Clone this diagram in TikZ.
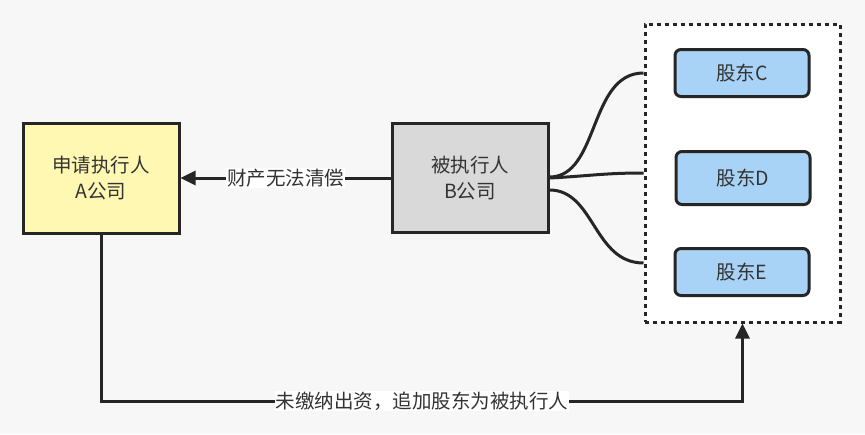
\documentclass[tikz,border=0pt]{standalone}
\usepackage{fontspec}
\setmainfont{Noto Sans CJK SC}
\usetikzlibrary{arrows.meta,calc}
\definecolor{bgc}{HTML}{F7F7F7}
\definecolor{lnc}{HTML}{262626}
\definecolor{txc}{HTML}{333333}
\definecolor{yelc}{HTML}{FFF8B3}
\definecolor{grayc}{HTML}{D9D9D9}
\definecolor{bluec}{HTML}{A9D3F6}
\tikzset{
  box/.style={draw=lnc,line width=3pt,text=txc,align=center,font=\fontsize{19.5}{26}\selectfont,inner sep=0pt},
  holder/.style={box,rounded corners=6pt,fill=bluec,minimum width=134pt,minimum height=47pt},
  conn/.style={draw=lnc,line width=3pt},
  tip/.style={-{Triangle[length=15pt,width=14pt]}},
  lab/.style={fill=white,text=txc,font=\fontsize{19.5}{23}\selectfont,inner sep=1pt}
}
\begin{document}
\begin{tikzpicture}[x=1pt,y=-1pt]
\useasboundingbox[fill=bgc] (0,0) rectangle (865,434);
\node[box,fill=yelc,minimum width=156pt,minimum height=110pt] (A) at (101,178) {申请执行人\\A公司};
\node[box,fill=grayc,minimum width=156pt,minimum height=109pt] (B) at (470,178) {被执行人\\B公司};
\node[draw=lnc,fill=white,line width=3pt,dash pattern=on 4pt off 4pt,minimum width=195pt,minimum height=298pt,inner sep=0pt] (K) at (742.5,173) {};
\node[holder] (C) at (742,73) {股东C};
\node[holder,minimum height=53pt] (D) at (743,178) {股东D};
\node[holder] (E) at (742,272) {股东E};
\draw[conn,tip] (B.west) -- node[lab]{财产无法清偿} (A.east);
\draw[conn] ([yshift=1pt]B.east) .. controls +(50,0) and ($(K.west)+(-55,-100)$) .. ([yshift=100pt]K.west);
\draw[conn] (B.east) .. controls +(40,-2) and ($(K.west)+(-40,0)$) .. (K.west);
\draw[conn] ([yshift=-12pt]B.east) .. controls +(45,0) and ($(K.west)+(-50,90)$) .. ([yshift=-90pt]K.west);
\coordinate (bl) at (A.south |- 0,401);
\coordinate (br) at (K.south |- 0,401);
\draw[conn,tip] (A.south) -- (bl) -- node[lab]{未缴纳出资，追加股东为被执行人} (br) -- (K.south);
\end{tikzpicture}
\end{document}
